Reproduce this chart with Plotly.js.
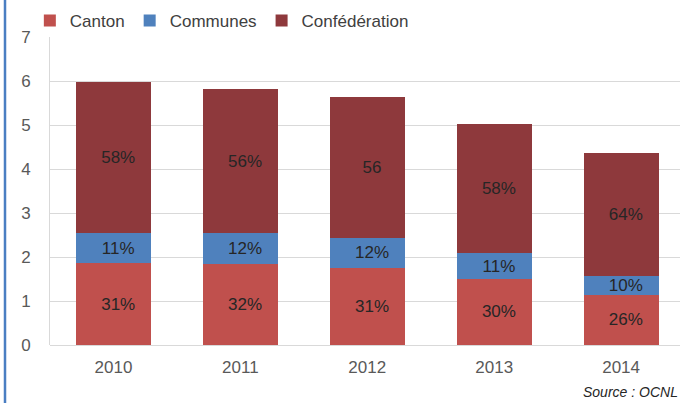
<!DOCTYPE html>
<html>
<head>
<meta charset="utf-8">
<script src="https://cdn.plot.ly/plotly-3.0.1.min.js"></script>
<style>
  html, body { margin: 0; padding: 0; background: #ffffff; }
  #chart { width: 680px; height: 403px; }
</style>
</head>
<body>
<div id="chart"></div>
<script>
// ---- Data ----
var years = ["2010", "2011", "2012", "2013", "2014"];
var cantonValues = [1.86, 1.83, 1.76, 1.51, 1.14];
var communesValues = [0.68, 0.71, 0.67, 0.57, 0.43];
var confederationValues = [3.44, 3.28, 3.20, 2.94, 2.79];
var cantonLabels = ["31%", "32%", "31%", "30%", "26%"];
var communesLabels = ["11%", "12%", "12%", "11%", "10%"];
var confederationLabels = ["58%", "56%", "56", "58%", "64%"];
var yTickValues = [0, 1, 2, 3, 4, 5, 6, 7];
var sourceText = "Source : OCNL";

var FONT = "Liberation Sans, Arial, Helvetica, sans-serif";
var labelFont = { family: FONT, size: 17, color: "#262626" };

function barTrace(name, values, labels, color) {
  return {
    type: "bar",
    name: name,
    x: years,
    y: values,
    text: labels,
    texttemplate: "\u00a0\u00a0%{text}",
    textposition: "inside",
    insidetextanchor: "middle",
    textangle: 0,
    textfont: labelFont,
    constraintext: "none",
    hoverinfo: "x+y+name",
    marker: { color: color, line: { width: 0 } }
  };
}

var data = [
  barTrace("Canton", cantonValues, cantonLabels, "#c0504d"),
  barTrace("Communes", communesValues, communesLabels, "#4f81bd"),
  barTrace("Confédération", confederationValues, confederationLabels, "#8e393c")
];

var layout = {
  width: 680,
  height: 403,
  margin: { l: 50, r: 0, t: 37, b: 58, pad: 0 },
  paper_bgcolor: "#ffffff",
  plot_bgcolor: "#ffffff",
  barmode: "stack",
  bargap: 0.41,
  font: { family: FONT, size: 17, color: "#595959" },
  showlegend: true,
  legend: {
    orientation: "h",
    x: -0.032,
    xanchor: "left",
    y: 1.052,
    yanchor: "middle",
    traceorder: "normal",
    font: { family: FONT, size: 17, color: "#404040" },
    bgcolor: "rgba(0,0,0,0)",
    itemclick: false,
    itemdoubleclick: false
  },
  xaxis: {
    type: "category",
    range: [-0.5, 4.464],
    showgrid: false,
    showline: false,
    zeroline: false,
    ticks: "",
    ticklabelstandoff: 10,
    tickfont: { family: FONT, size: 17, color: "#595959" },
    fixedrange: true
  },
  yaxis: {
    range: [0, 7],
    tickvals: yTickValues,
    ticktext: yTickValues.map(String),
    showgrid: true,
    gridcolor: "#d9d9d9",
    gridwidth: 1,
    zeroline: true,
    zerolinecolor: "#d9d9d9",
    zerolinewidth: 1,
    showline: true,
    linecolor: "#d9d9d9",
    linewidth: 1,
    ticks: "",
    ticklabelstandoff: 15,
    tickfont: { family: FONT, size: 17, color: "#595959" },
    fixedrange: true
  },
  shapes: [
    {
      type: "line",
      xref: "paper", yref: "paper",
      x0: -45 / 630, x1: -45 / 630,
      y0: -58 / 308, y1: 1 + 37 / 308,
      line: { color: "#4a7ec2", width: 2.5 }
    }
  ],
  annotations: [
    {
      text: "<i>" + sourceText + "</i>",
      xref: "paper", yref: "paper",
      x: 1.0, xanchor: "right",
      y: -0.153, yanchor: "middle",
      showarrow: false,
      font: { family: FONT, size: 14, color: "#262626" }
    }
  ]
};

Plotly.newPlot("chart", data, layout, { displayModeBar: false, staticPlot: true });
</script>
</body>
</html>
